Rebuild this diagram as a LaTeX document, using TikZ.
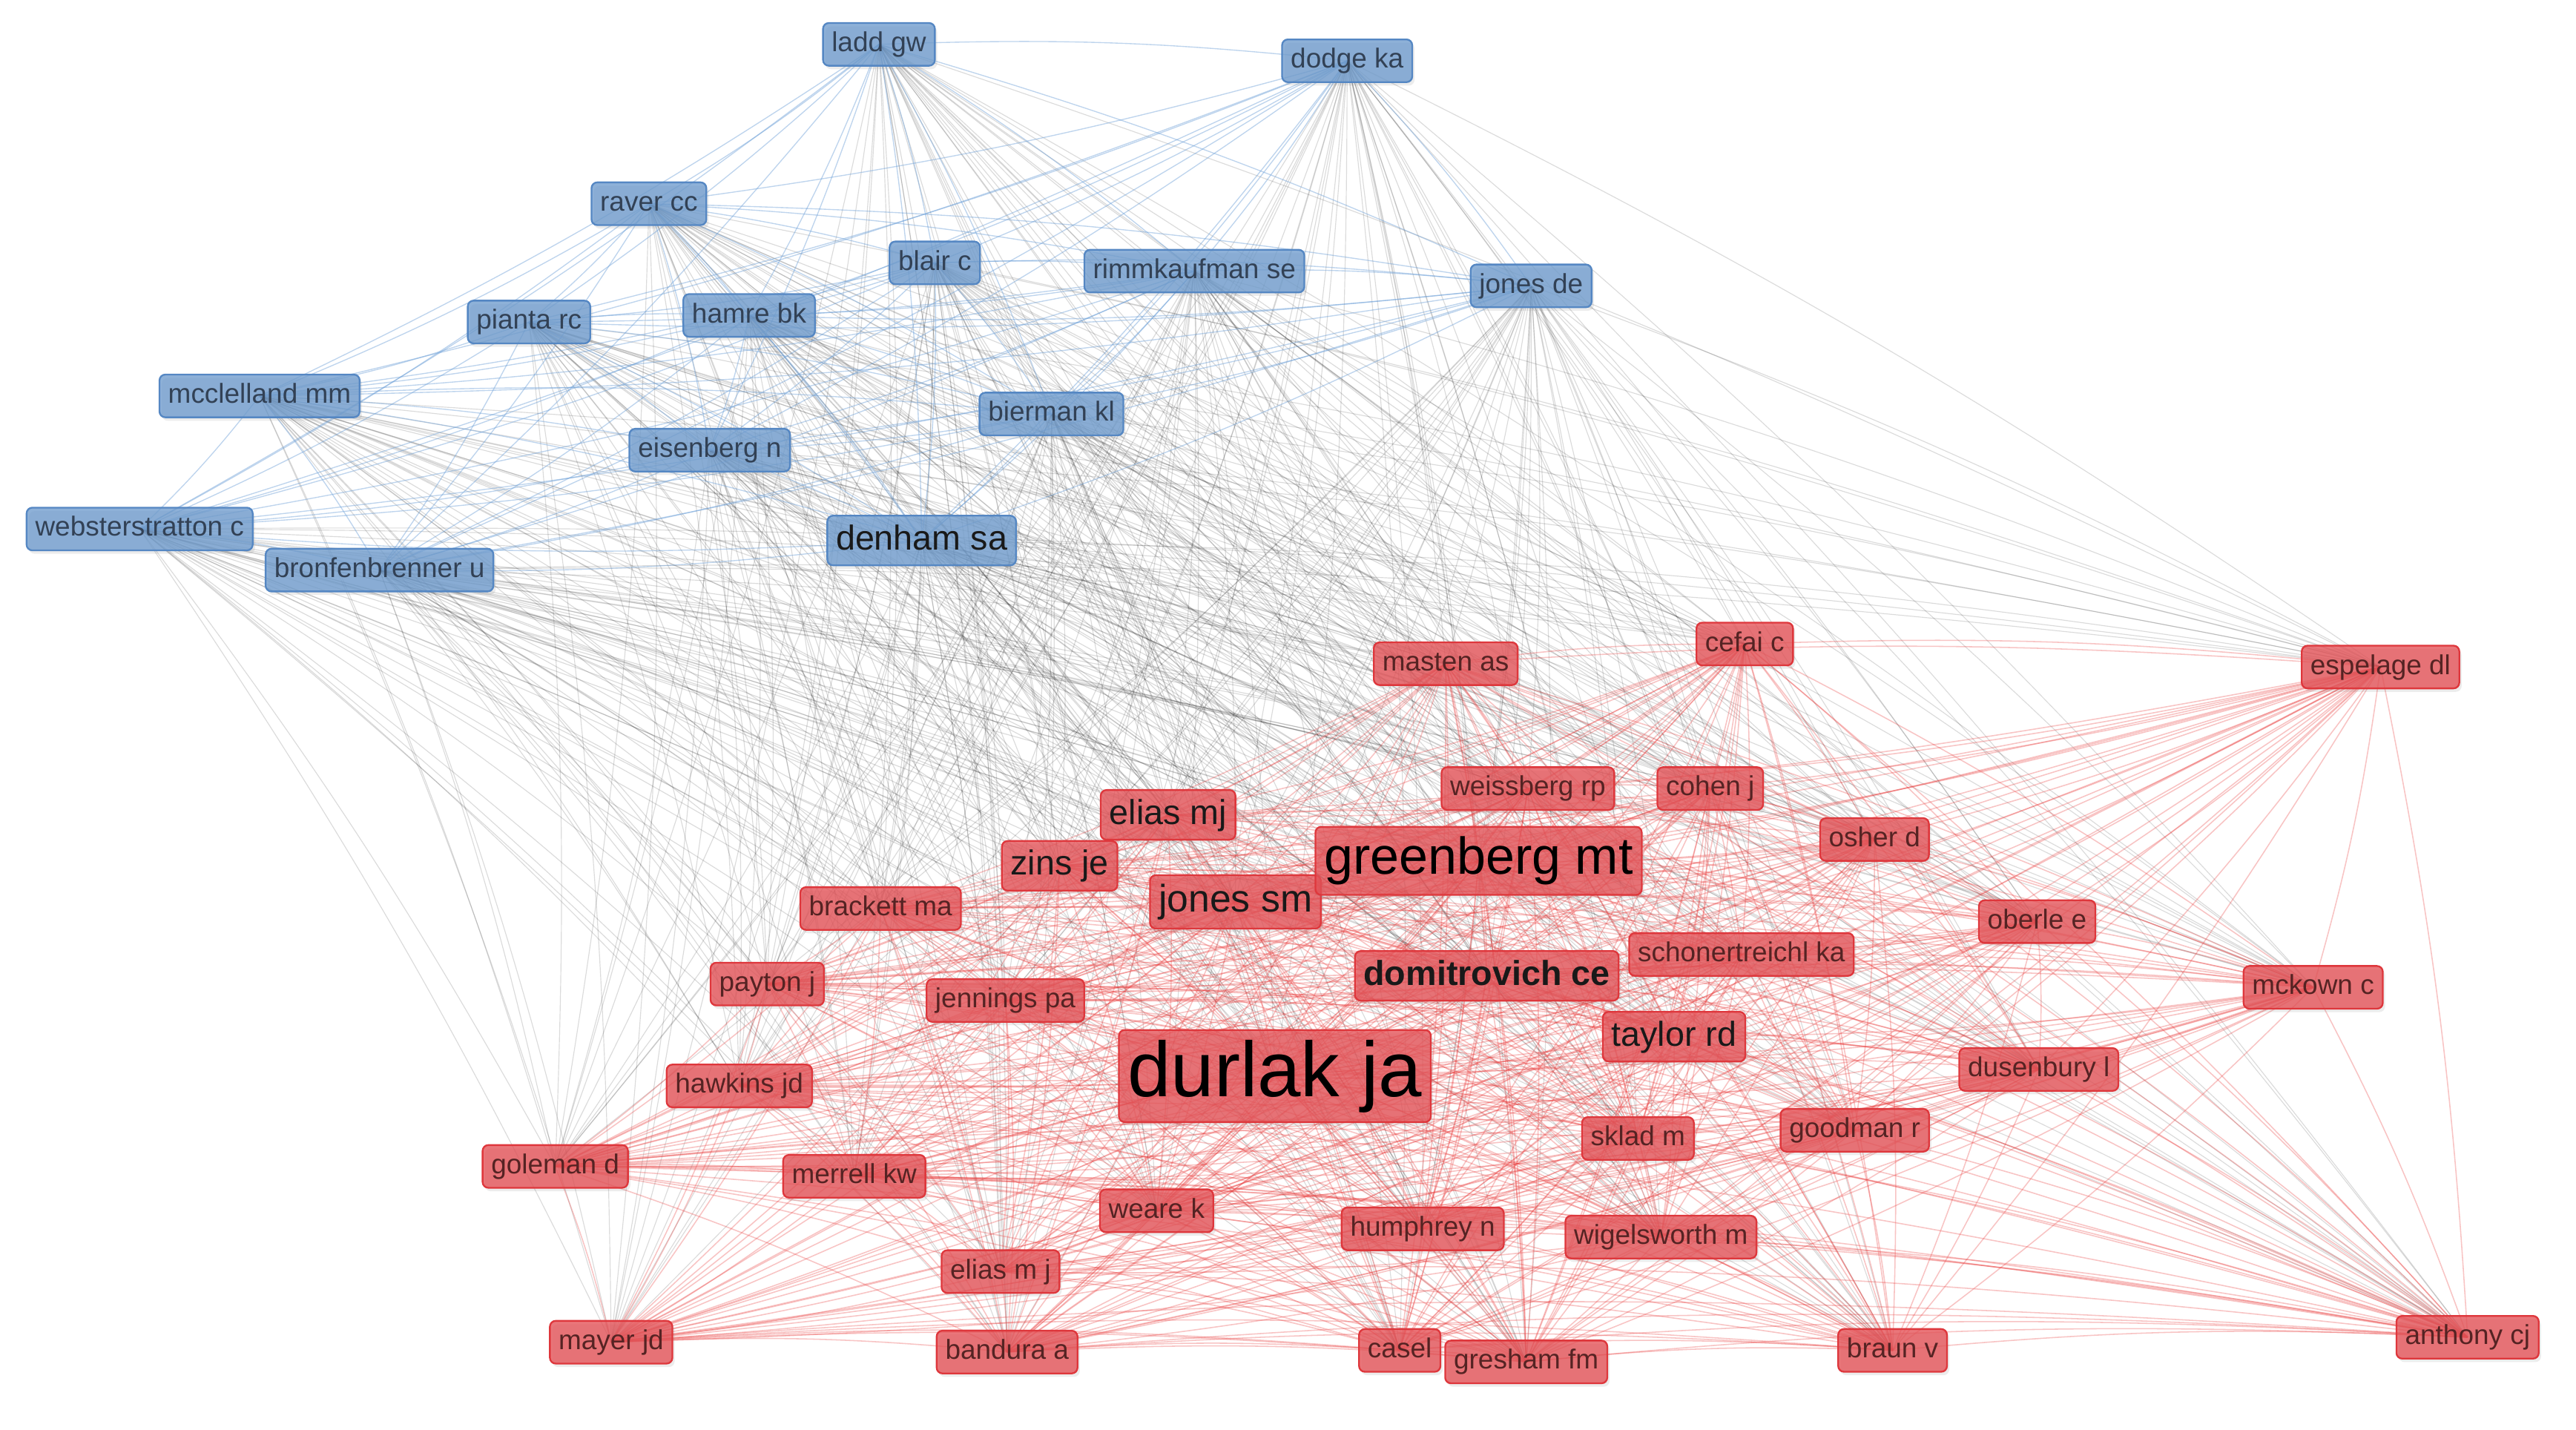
\documentclass[tikz,border=0pt]{standalone}
\usepackage{fontspec}
\setmainfont{Liberation Sans}
\usetikzlibrary{backgrounds,shadows}

\definecolor{vosblue}{RGB}{110,155,205}
\definecolor{vosbluedark}{RGB}{85,135,195}
\definecolor{bluetext}{RGB}{50,65,85}
\definecolor{vosred}{RGB}{228,80,85}
\definecolor{vosreddark}{RGB}{222,55,60}
\definecolor{redtext}{RGB}{85,35,35}
\definecolor{linkblue}{RGB}{110,160,215}
\definecolor{linkred}{RGB}{232,60,60}

\newcommand\bluenodes{ladd,dodge,raver,blair,rimm,jonesde,pianta,hamre,mcclel,bierman,eisen,denham,webster,bronf}
\newcommand\rednodes{masten,cefai,espel,weiss,cohen,eliasmj,osher,zins,green,brack,jonessm,oberle,schon,payton,jenn,domit,mckown,taylor,durlak,dusen,hawk,gole,sklad,goodman,merrell,weare,humph,wigel,eliasm,mayer,band,casel,gresh,braun,anthony}

\tikzset{
  author/.style={rounded corners=2pt, fill opacity=0.78, text opacity=1,
    inner xsep=3pt, inner ysep=2.8pt, line width=0.6pt,
    drop shadow={opacity=0.15, shadow xshift=0.8pt, shadow yshift=-1.2pt}},
  c1/.style={font=\fontsize{9.5}{10}\selectfont, text height=7.1pt, text depth=2.1pt},
  c2/.style={font=\fontsize{12}{12}\selectfont, text height=9pt, text depth=2.6pt, text=black!90},
  c3/.style={font=\fontsize{13.3}{14}\selectfont, text height=10pt, text depth=2.9pt, text=black!90},
  c4/.style={font=\fontsize{18}{18}\selectfont, text height=13.5pt, text depth=4.5pt, text=black},
  c5/.style={font=\fontsize{27}{27}\selectfont, text height=20.3pt, text depth=6pt, text=black},
  bauthor/.style={author, c1, fill=vosblue, draw=vosbluedark, text=bluetext},
  rauthor/.style={author, c1, fill=vosred, draw=vosreddark, text=redtext},
  bluelink/.style={linkblue, line width=0.35pt, opacity=0.45},
  redlink/.style={linkred, line width=0.4pt, opacity=0.3},
  greylink/.style={black, line width=0.3pt, opacity=0.14},
}

\begin{document}
\begin{tikzpicture}[x=0.02cm,y=-0.02cm]
\useasboundingbox (0,0) rectangle (1568,870);

% cluster 1
\node[bauthor] (ladd) at (535,27) {ladd gw};
\node[bauthor] (dodge) at (820,37) {dodge ka};
\node[bauthor] (raver) at (395,124) {raver cc};
\node[bauthor] (blair) at (569,160) {blair c};
\node[bauthor] (rimm) at (727,165) {rimmkaufman se};
\node[bauthor] (jonesde) at (932,174) {jones de};
\node[bauthor] (pianta) at (322,196) {pianta rc};
\node[bauthor] (hamre) at (456,192) {hamre bk};
\node[bauthor] (mcclel) at (158,241) {mcclelland mm};
\node[bauthor] (bierman) at (640,252) {bierman kl};
\node[bauthor] (eisen) at (432,274) {eisenberg n};
\node[bauthor,c2] (denham) at (561,329) {denham sa};
\node[bauthor] (webster) at (85,322) {websterstratton c};
\node[bauthor] (bronf) at (231,347) {bronfenbrenner u};

% cluster 2
\node[rauthor] (masten) at (880,404) {masten as};
\node[rauthor] (cefai) at (1062,392) {cefai c};
\node[rauthor] (espel) at (1449,406) {espelage dl};
\node[rauthor] (weiss) at (930,480) {weissberg rp};
\node[rauthor] (cohen) at (1041,480) {cohen j};
\node[rauthor,c2] (eliasmj) at (711,496) {elias mj};
\node[rauthor] (osher) at (1141,511) {osher d};
\node[rauthor,c2] (zins) at (645,527) {zins je};
\node[rauthor] (brack) at (536,553) {brackett ma};
\node[rauthor,c3] (jonessm) at (752,549) {jones sm};
\node[rauthor,c4] (green) at (900,524) {greenberg mt};
\node[rauthor] (oberle) at (1240,561) {oberle e};
\node[rauthor] (schon) at (1060,581) {schonertreichl ka};
\node[rauthor] (payton) at (467,599) {payton j};
\node[rauthor] (jenn) at (612,609) {jennings pa};
\node[rauthor,c2] (domit) at (905,594) {\bfseries domitrovich ce};
\node[rauthor] (mckown) at (1408,601) {mckown c};
\node[rauthor,c2] (taylor) at (1019,631) {taylor rd};
\node[rauthor] (dusen) at (1241,651) {dusenbury l};
\node[rauthor] (hawk) at (450,661) {hawkins jd};
\node[rauthor] (gole) at (338,710) {goleman d};
\node[rauthor] (sklad) at (997,693) {sklad m};
\node[rauthor] (goodman) at (1129,688) {goodman r};
\node[rauthor] (merrell) at (520,716) {merrell kw};
\node[rauthor] (weare) at (704,737) {weare k};
\node[rauthor] (humph) at (866,748) {humphrey n};
\node[rauthor] (wigel) at (1011,753) {wigelsworth m};
\node[rauthor] (eliasm) at (609,774) {elias m j};
\node[rauthor] (mayer) at (372,817) {mayer jd};
\node[rauthor] (band) at (613,823) {bandura a};
\node[rauthor] (casel) at (852,822) {casel};
\node[rauthor] (gresh) at (929,829) {gresham fm};
\node[rauthor] (braun) at (1152,822) {braun v};
\node[rauthor] (anthony) at (1502,814) {anthony cj};
\node[rauthor,c5] (durlak) at (776,655) {durlak ja};

% links
\begin{scope}[on background layer]
\foreach \a in \bluenodes {
  \foreach \b in \rednodes {
    \draw[greylink] (\a.center) to[bend left=4] (\b.center);
  }
}
\foreach \a [count=\i] in \bluenodes {
  \foreach \b [count=\j] in \bluenodes {
    \ifnum\j>\i \draw[bluelink] (\a.center) to[bend left=4] (\b.center); \fi
  }
}
\foreach \a [count=\i] in \rednodes {
  \foreach \b [count=\j] in \rednodes {
    \ifnum\j>\i \draw[redlink] (\a.center) to[bend left=4] (\b.center); \fi
  }
}
\end{scope}
\end{tikzpicture}
\end{document}
